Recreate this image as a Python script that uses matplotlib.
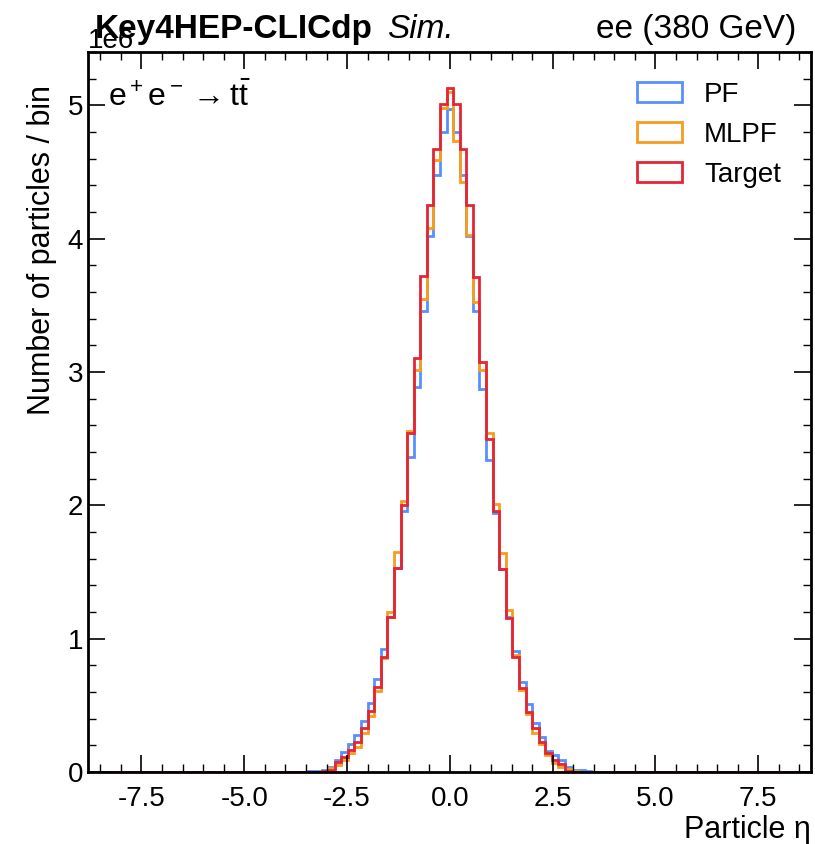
import numpy as np
import matplotlib
matplotlib.use("Agg")
import matplotlib.pyplot as plt
from matplotlib.patches import Patch
from matplotlib.ticker import MultipleLocator

plt.rcParams['font.family'] = ['Liberation Sans', 'DejaVu Sans']
plt.rcParams['mathtext.fontset'] = 'custom'
plt.rcParams['mathtext.rm'] = 'Liberation Sans'
plt.rcParams['mathtext.it'] = 'Liberation Sans:italic'
plt.rcParams['mathtext.bf'] = 'Liberation Sans:bold'
plt.rcParams['axes.unicode_minus'] = False

# bin index (bin centred at index * width), non-listed bins are empty
bin_index = list(range(-22, 23))
bin_width = 0.16
n_side = 55  # bins on each side of zero for full range

target = [0.0, 0.0, 0.002, 0.005, 0.015, 0.077, 0.115, 0.165, 0.227, 0.327,
          0.46, 0.64, 0.865, 1.164, 1.532, 2.00, 2.54, 3.106, 3.72, 4.255,
          4.675, 5.01, 5.133, 5.01, 4.67, 4.25, 3.71, 3.076, 2.50, 1.96,
          1.52, 1.152, 0.86, 0.627, 0.452, 0.327, 0.227, 0.14, 0.09, 0.06,
          0.01, 0.003, 0.001, 0.0, 0.0]
mlpf = [0.0, 0.001, 0.003, 0.008, 0.027, 0.052, 0.09, 0.14, 0.19, 0.29,
        0.42, 0.61, 0.852, 1.202, 1.652, 2.03, 2.556, 3.014, 3.545, 4.08,
        4.59, 4.98, 5.10, 4.73, 4.425, 4.025, 3.525, 3.014, 2.54, 2.01,
        1.644, 1.214, 0.88, 0.615, 0.435, 0.295, 0.21, 0.127, 0.07, 0.04,
        0.02, 0.005, 0.002, 0.001, 0.0]
pf = [0.003, 0.006, 0.01, 0.016, 0.04, 0.09, 0.147, 0.21, 0.277, 0.385,
      0.515, 0.695, 0.92, 1.16, 1.53, 1.956, 2.364, 2.89, 3.46, 4.02,
      4.48, 4.80, 4.975, 4.80, 4.48, 4.02, 3.46, 2.876, 2.344, 1.944,
      1.52, 1.16, 0.905, 0.677, 0.51, 0.37, 0.265, 0.16, 0.127, 0.09,
      0.04, 0.015, 0.012, 0.008, 0.003]

labels = ["PF", "MLPF", "Target"]
colors = ["#5790fc", "#f89c20", "#e42536"]

edges = (np.arange(-n_side, n_side + 2) - 0.5) * bin_width


def full_counts(vals):
    c = np.zeros(len(edges) - 1)
    for i, v in zip(bin_index, vals):
        c[i + n_side] = v * 1e6
    return c


fig = plt.figure(figsize=(8.15, 8.44), dpi=100)
ax = fig.add_axes([0.108, 0.0853, 0.887, 0.853])

for vals, lab, col in zip([pf, mlpf, target], labels, colors):
    ax.stairs(full_counts(vals), edges, color=col, lw=2.0, label=lab)

ax.set_xlim(-8.8, 8.78)
ax.set_ylim(0, 5.4e6)
ax.xaxis.set_major_locator(MultipleLocator(2.5))
ax.xaxis.set_minor_locator(MultipleLocator(0.5))
ax.yaxis.set_major_locator(MultipleLocator(1e6))
ax.yaxis.set_minor_locator(MultipleLocator(0.2e6))
ax.tick_params(which='both', direction='in', top=True, right=True, labelsize=20)
ax.tick_params(which='major', length=12, width=1.2)
ax.tick_params(which='minor', length=6, width=1.0)
ax.tick_params(axis='x', pad=10)
for s in ax.spines.values():
    s.set_linewidth(2)
ax.yaxis.get_offset_text().set_fontsize(20)

ax.set_ylabel("Number of particles / bin", fontsize=22, loc='top')
ax.yaxis.set_label_coords(-0.043, 0.954)
ax.set_xlabel("Particle η", fontsize=22, loc='right', labelpad=2)

ax.text(0.01, 1.01, "Key4HEP-CLICdp", transform=ax.transAxes, fontsize=24,
        fontweight='bold', ha='left', va='bottom')
ax.text(0.414, 1.01, "Sim.", transform=ax.transAxes, fontsize=24,
        style='italic', ha='left', va='bottom')
ax.text(0.98, 1.01, "ee (380 GeV)", transform=ax.transAxes, fontsize=24,
        ha='right', va='bottom')
ax.text(0.028, 0.958, r"$\mathrm{e^+e^- \rightarrow t\bar{t}}$",
        transform=ax.transAxes, fontsize=23, ha='left', va='top')

handles = [Patch(facecolor='none', edgecolor=c, lw=2, label=l)
           for c, l in zip(colors, labels)]
ax.legend(handles=handles, loc='upper right', frameon=False, fontsize=20,
          handlelength=1.6, handleheight=0.75, labelspacing=0.5,
          handletextpad=0.8, borderaxespad=0.6, bbox_to_anchor=(0.997, 0.997))

fig.savefig("out.png", dpi=100)
